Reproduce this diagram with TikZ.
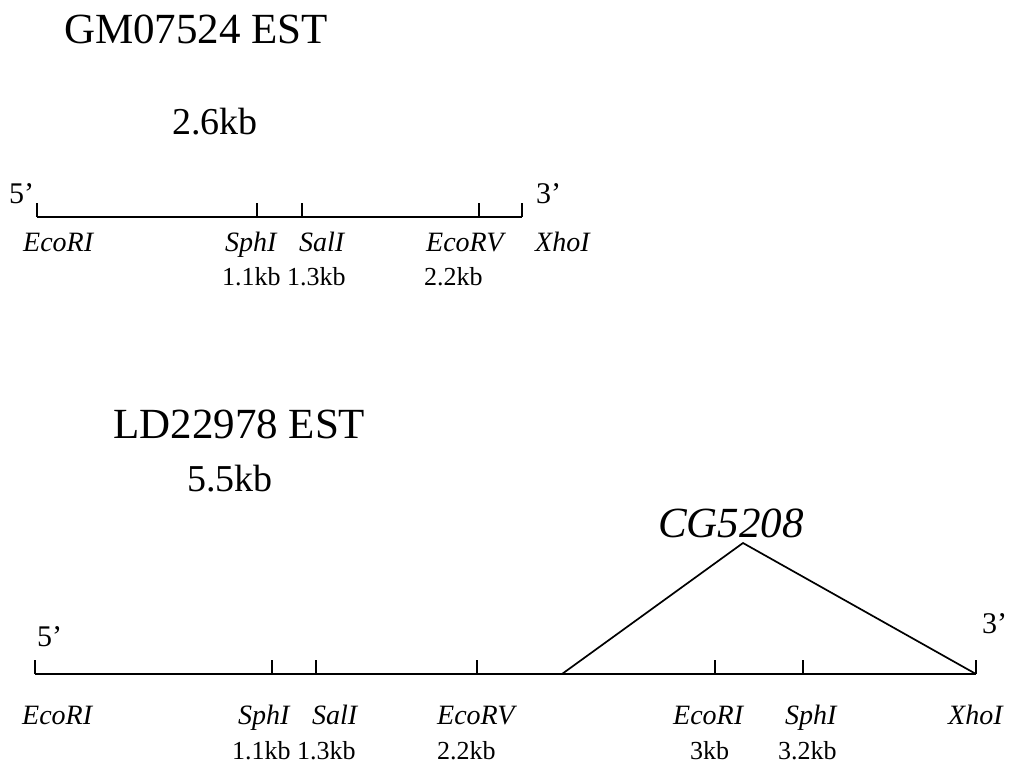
\documentclass[tikz,border=0pt]{standalone}
\usepackage{fontspec}
\setmainfont{Liberation Serif}
\usetikzlibrary{positioning,calc}

\begin{document}
\begin{tikzpicture}[
  x=1pt, y=-1pt,
  title/.style={font=\fontsize{43}{48}\selectfont, anchor=base west, inner sep=0pt},
  lenlab/.style={font=\fontsize{38}{42}\selectfont, anchor=base west, inner sep=0pt},
  endl/.style={font=\fontsize{30}{34}\selectfont, anchor=base west, inner sep=0pt},
  site/.style={font=\fontsize{28}{31}\selectfont\itshape, anchor=base west, inner sep=0pt},
  kbpos/.style={font=\fontsize{26}{30}\selectfont, anchor=base west, inner sep=0pt},
  gene/.style={font=\fontsize{43}{47}\selectfont\itshape, anchor=base west, inner sep=0pt},
  dna/.style={line width=1.7pt},
  cut/.style={line width=1.4pt},
]
\useasboundingbox (0,0) rectangle (1013,764);

% GM07524 clone
\node[title] (gm) at (64,43) {GM07524 EST};
\node[lenlab] (gmlen) at (172,134) {2.6kb};
\node[endl] (gm5) at (9,203) {5'};
\node[endl] (gm3) at (536,203) {3'};
\coordinate (g0) at (37,217);
\coordinate (g1) at (522,217);
\draw[dna] (g0) -- (g1);
\foreach \x/\n in {37/a,257/b,302/c,479/d,522/e} {
  \coordinate (gs\n) at (\x,217);
  \draw[cut] (gs\n) -- ++(0,-14);
}
\foreach \x/\t in {23/EcoRI,225/SphI,299/SalI,426/EcoRV,535/XhoI}
  \node[site] (gl\t) at (\x,251) {\t};
\node[kbpos] (gp1) at (222,285) {1.1kb};
\node[kbpos] (gp2) at (287,285) {1.3kb};
\node[kbpos] (gp3) at (424,285) {2.2kb};

% LD22978 clone
\node[title] (ld) at (113,438) {LD22978 EST};
\node[lenlab] (ldlen) at (187,491) {5.5kb};
\node[endl] (ld5) at (37,646) {5'};
\node[endl] (ld3) at (982,633) {3'};
\coordinate (l0) at (35,674);
\coordinate (l1) at (976,674);
\draw[dna] (l0) -- (l1);
\foreach \x/\n in {35/a,272/b,316/c,477/d,715/e,803/f,976/g} {
  \coordinate (ls\n) at (\x,674);
  \draw[cut] (ls\n) -- ++(0,-14);
}
% inserted gene
\coordinate (tl) at (562,674);
\coordinate (top) at (743,543);
\draw[dna, line join=miter] (tl) -- (top) -- (l1);
\node[gene] (cg) at (658,537) {CG5208};
\foreach \x/\t/\n in {22/EcoRI/a,238/SphI/b,312/SalI/c,437/EcoRV/d,673/EcoRI/e,785/SphI/f,948/XhoI/g}
  \node[site] (ll\n) at (\x,724) {\t};
\node[kbpos] (lp1) at (232,759) {1.1kb};
\node[kbpos] (lp2) at (297,759) {1.3kb};
\node[kbpos] (lp3) at (437,759) {2.2kb};
\node[kbpos] (lp4) at (690,759) {3kb};
\node[kbpos] (lp5) at (778,759) {3.2kb};
\end{tikzpicture}
\end{document}
